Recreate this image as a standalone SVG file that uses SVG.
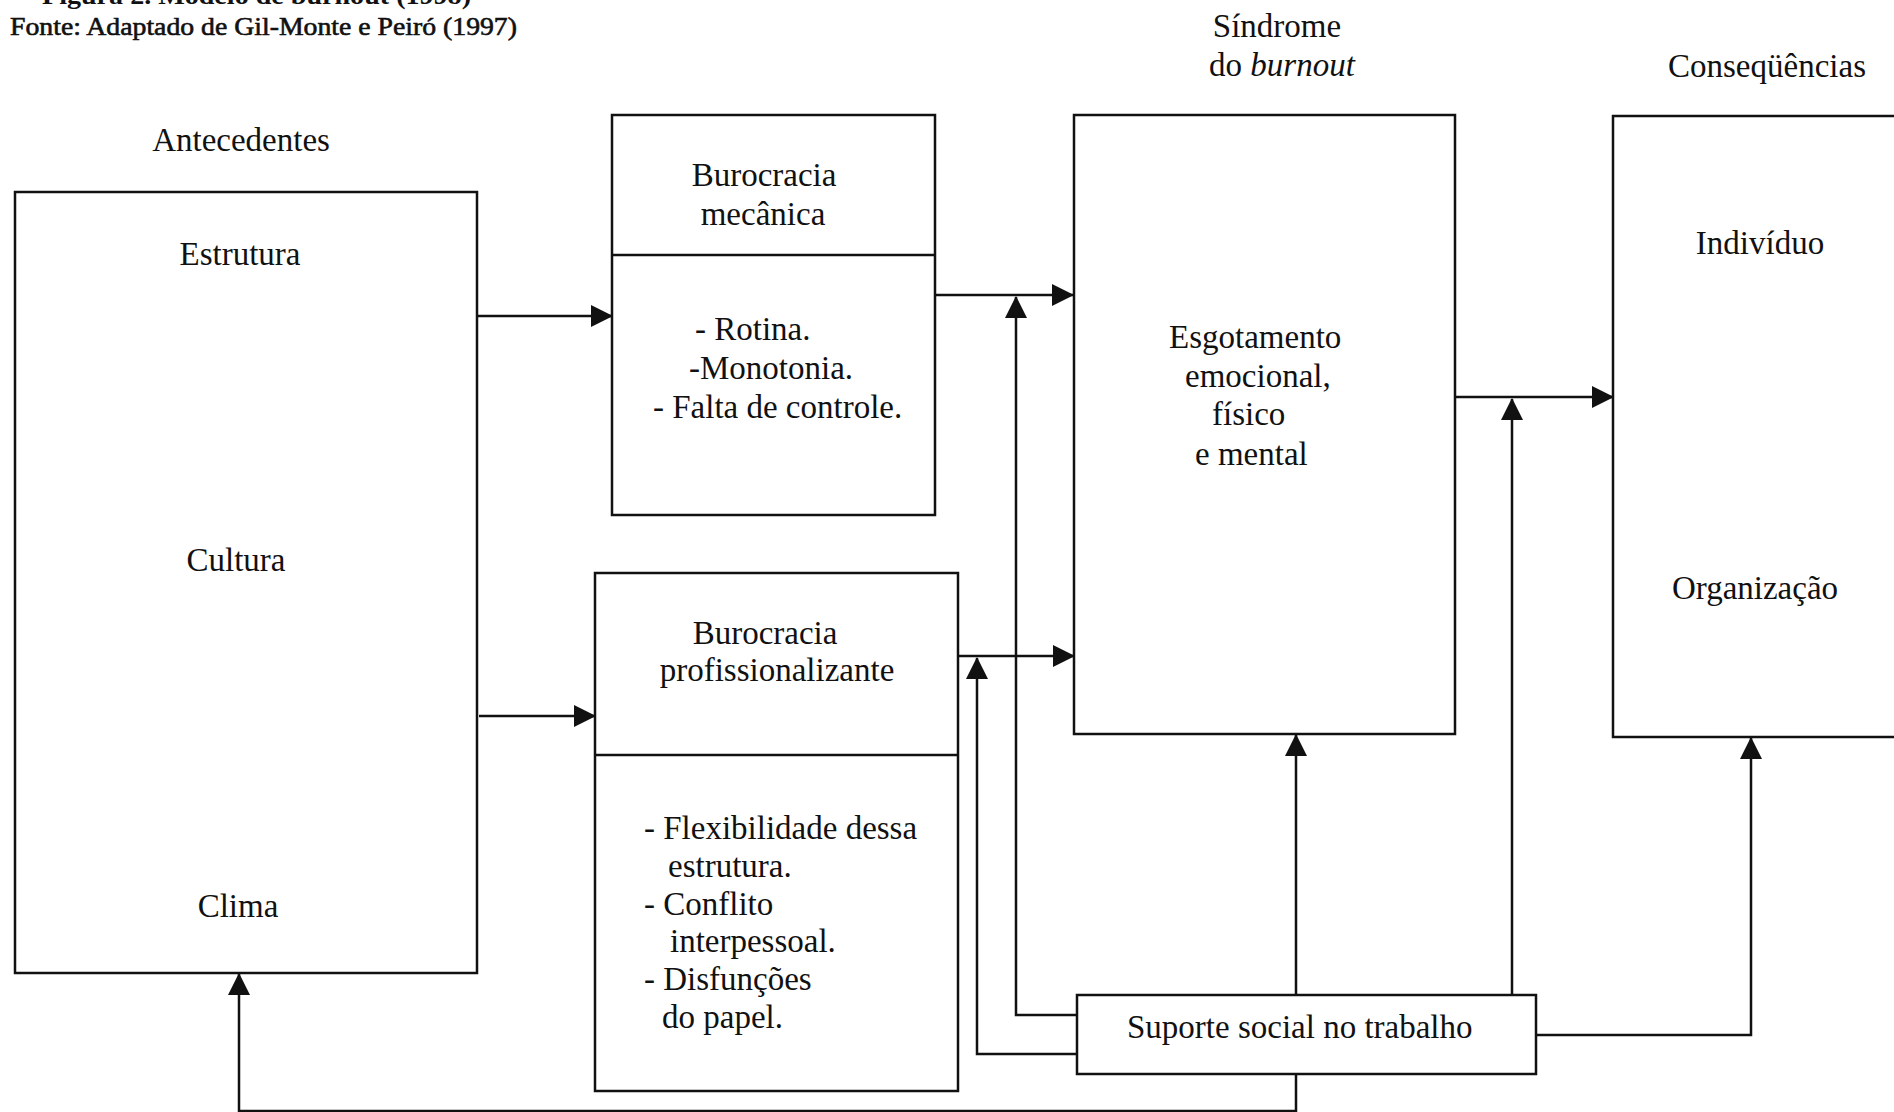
<svg xmlns="http://www.w3.org/2000/svg" width="1894" height="1112" viewBox="0 0 1894 1112">
  <style>
    text { font-family: "Liberation Serif", "Times New Roman", serif; font-size: 33px; fill: #111; }
    .box { fill: none; stroke: #111; stroke-width: 2.5; }
    .wire { fill: none; stroke: #111; stroke-width: 2.5; }
    .arrow { marker-end: url(#head); }
    .c { text-anchor: middle; }
    .cap { font-size: 25px; font-weight: bold; }
  </style>
  <defs>
    <marker id="head" markerUnits="userSpaceOnUse" markerWidth="22" markerHeight="22" viewBox="0 0 22 22" refX="21" refY="11" orient="auto">
      <path d="M0,0 L22,11 L0,22 z" fill="#111"/>
    </marker>
  </defs>
  <rect width="1894" height="1112" fill="#fff"/>

  <!-- caption -->
  <g id="caption">
    <text class="cap" x="42" y="4" textLength="429" lengthAdjust="spacingAndGlyphs">Figura 2. Modelo de burnout (1998)</text>
    <text class="cap" x="10" y="35" textLength="507" lengthAdjust="spacingAndGlyphs" style="font-weight:normal;stroke:#111;stroke-width:0.6">Fonte: Adaptado de Gil-Monte e Peiró (1997)</text>
  </g>

  <!-- column headings -->
  <g id="headings">
    <text class="c" x="241" y="151">Antecedentes</text>
    <text class="c" x="1277" y="37">Síndrome</text>
    <text class="c" x="1282" y="76">do <tspan font-style="italic">burnout</tspan></text>
    <text class="c" x="1767" y="77">Conseqüências</text>
  </g>

  <!-- connectors -->
  <g id="connectors">
    <path class="wire arrow" d="M477,316 H612"/>
    <path class="wire arrow" d="M479,716 H595"/>
    <path class="wire arrow" d="M935,295 H1073"/>
    <path class="wire arrow" d="M958,656 H1074"/>
    <path class="wire arrow" d="M1455,397 H1613"/>
    <path class="wire arrow" d="M1077,1015 H1016 V297"/>
    <path class="wire arrow" d="M1077,1054 H977 V658"/>
    <path class="wire arrow" d="M1296,995 V735"/>
    <path class="wire arrow" d="M1512,995 V399"/>
    <path class="wire arrow" d="M1536,1035 H1751 V738"/>
    <path class="wire arrow" d="M1296,1074 V1111 H239 V974"/>
  </g>

  <!-- antecedents -->
  <g id="antecedentes">
    <rect class="box" x="15" y="192" width="462" height="781"/>
    <text class="c" x="240" y="265">Estrutura</text>
    <text class="c" x="236" y="571">Cultura</text>
    <text class="c" x="238" y="917">Clima</text>
  </g>

  <!-- mechanical bureaucracy -->
  <g id="burocracia-mecanica">
    <rect class="box" x="612" y="115" width="323" height="400"/>
    <line class="box" x1="612" y1="255" x2="935" y2="255"/>
    <text class="c" x="764" y="186">Burocracia</text>
    <text class="c" x="763" y="225">mecânica</text>
    <text x="695" y="340">- Rotina.</text>
    <text x="689" y="379">-Monotonia.</text>
    <text x="653" y="418">- Falta de controle.</text>
  </g>

  <!-- professional bureaucracy -->
  <g id="burocracia-profissionalizante">
    <rect class="box" x="595" y="573" width="363" height="518"/>
    <line class="box" x1="595" y1="755" x2="958" y2="755"/>
    <text class="c" x="765" y="644">Burocracia</text>
    <text class="c" x="777" y="681">profissionalizante</text>
    <text x="644" y="839">- Flexibilidade dessa</text>
    <text x="668" y="877">estrutura.</text>
    <text x="644" y="915">- Conflito</text>
    <text x="670" y="952">interpessoal.</text>
    <text x="644" y="990">- Disfunções</text>
    <text x="662" y="1028">do papel.</text>
  </g>

  <!-- burnout syndrome -->
  <g id="sindrome">
    <rect class="box" x="1074" y="115" width="381" height="619"/>
    <text x="1169" y="348">Esgotamento</text>
    <text x="1185" y="387">emocional,</text>
    <text x="1212" y="425">físico</text>
    <text x="1195" y="465">e mental</text>
  </g>

  <!-- consequences -->
  <g id="consequencias">
    <rect class="box" x="1613" y="116" width="400" height="621"/>
    <text class="c" x="1760" y="254">Indivíduo</text>
    <text class="c" x="1755" y="599">Organização</text>
  </g>

  <!-- social support -->
  <g id="suporte-social">
    <rect class="box" x="1077" y="995" width="459" height="79"/>
    <text x="1127" y="1038">Suporte social no trabalho</text>
  </g>
</svg>
